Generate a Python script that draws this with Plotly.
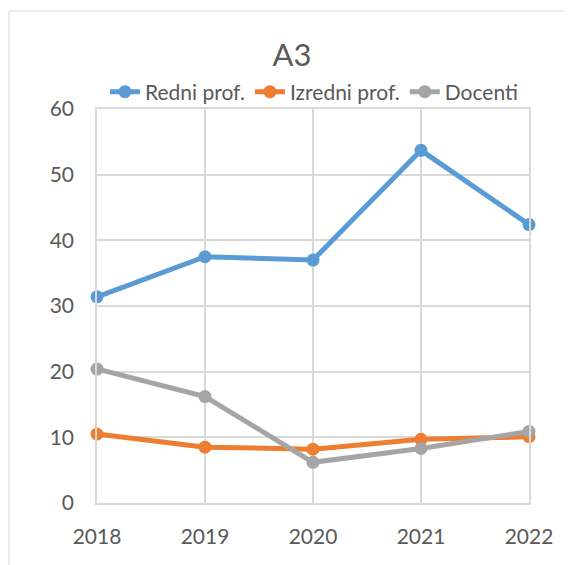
import plotly.graph_objects as go

years = [2018, 2019, 2020, 2021, 2022]
redni = [31.4, 37.5, 37.0, 53.7, 42.4]
izredni = [10.5, 8.5, 8.2, 9.7, 10.1]
docenti = [20.4, 16.2, 6.2, 8.3, 10.9]
y_ticks = [0, 10, 20, 30, 40, 50, 60]

FONT = "Lato"
TXT = "#595959"
GRID = "#D9D9D9"

fig = go.Figure()
for name, vals, col in [("Redni prof.", redni, "#5B9BD5"),
                        ("Izredni prof.", izredni, "#ED7D31"),
                        ("Docenti", docenti, "#A5A5A5")]:
    fig.add_trace(go.Scatter(
        x=years, y=vals, name=name, mode="lines+markers",
        line=dict(color=col, width=5), marker=dict(color=col, size=13),
        cliponaxis=False))

# page body has an 8px default margin; compensate so the figure sits as in the reference
OFF = 8
W, H = 573 - OFF, 565 - OFF
L, T = 97 - OFF, 109 - OFF
pw, ph = 432, 394
R, B = W - L - pw, H - T - ph

def py(y_page):  # page pixel y -> paper coord
    return (T + ph - (y_page - OFF)) / ph

def px(x_page):
    return ((x_page - OFF) - L) / pw

fig.update_layout(
    width=W, height=H,
    margin=dict(l=L, r=R, t=T, b=B),
    paper_bgcolor="white", plot_bgcolor="white",
    font=dict(family=FONT, color=TXT, size=21),
    title=dict(text="A3", x=(292 - OFF) / W, xref="container", xanchor="center",
               y=1 - (55 - OFF) / H, yref="container", yanchor="middle",
               font=dict(size=31, color=TXT, family=FONT)),
    showlegend=True,
    legend=dict(orientation="h", x=px(314), xanchor="center",
                y=py(92), yanchor="middle",
                font=dict(size=21, color=TXT, family=FONT),
                bgcolor="rgba(0,0,0,0)", traceorder="normal",
                itemwidth=30),
    xaxis=dict(range=[2018, 2022], tickvals=years, ticktext=[str(y) for y in years],
               showgrid=True, gridcolor=GRID, gridwidth=1.6,
               showline=True, linecolor=GRID, linewidth=1.6, mirror=True,
               zeroline=False, ticks="", ticklabelstandoff=14,
               tickfont=dict(size=21, color=TXT, family=FONT), fixedrange=True),
    yaxis=dict(range=[0, 60], tickvals=y_ticks,
               showgrid=True, gridcolor=GRID, gridwidth=1.6,
               showline=True, linecolor=GRID, linewidth=1.6, mirror=True,
               zeroline=False, ticks="", ticklabelstandoff=17,
               tickfont=dict(size=21, color=TXT, family=FONT), fixedrange=True),
    shapes=[dict(type="rect", xref="paper", yref="paper",
                 x0=px(9), x1=px(600), y0=py(600), y1=py(11),
                 line=dict(color=GRID, width=1), fillcolor="rgba(0,0,0,0)",
                 layer="below")],
)

fig.write_html("out.html")
